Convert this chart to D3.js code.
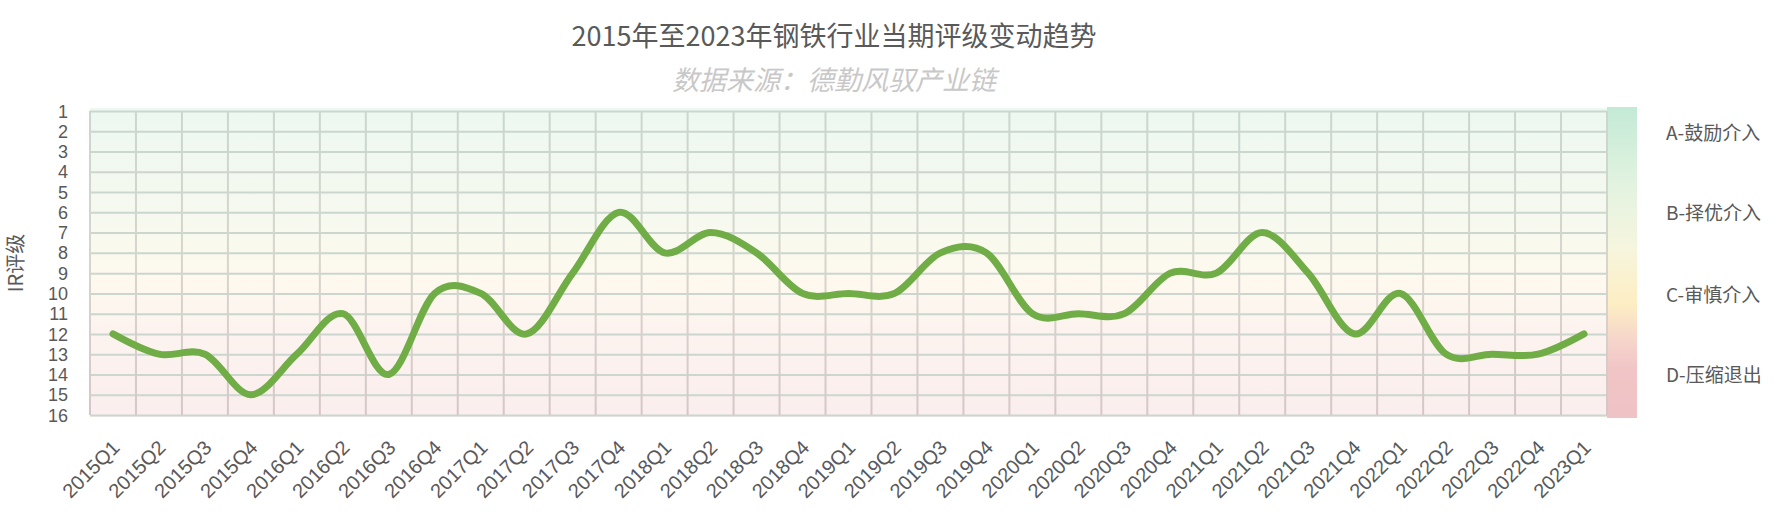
<!DOCTYPE html>
<html>
<head>
<meta charset="utf-8">
<script src="https://cdn.jsdelivr.net/npm/d3@7"></script>
<style>
  body { margin: 0; background: #fff; }
  svg { display: block; font-family: "Noto Sans CJK SC", "Noto Sans", sans-serif; }
</style>
</head>
<body>
<svg id="chart"></svg>
<script>
const quarters = [
  '2015Q1', '2015Q2', '2015Q3', '2015Q4', '2016Q1', '2016Q2', '2016Q3', '2016Q4',
  '2017Q1', '2017Q2', '2017Q3', '2017Q4', '2018Q1', '2018Q2', '2018Q3', '2018Q4',
  '2019Q1', '2019Q2', '2019Q3', '2019Q4', '2020Q1', '2020Q2', '2020Q3', '2020Q4',
  '2021Q1', '2021Q2', '2021Q3', '2021Q4', '2022Q1', '2022Q2', '2022Q3', '2022Q4',
  '2023Q1'
]
const ratings = [
  12, 13, 13, 15, 13, 11, 14, 10,
  10, 12, 9, 6, 8, 7, 8, 10,
  10, 10, 8, 8, 11, 11, 11, 9,
  9, 7, 9, 12, 10, 13, 13, 13,
  12
]
const ratingTicks = [1, 2, 3, 4, 5, 6, 7, 8, 9, 10, 11, 12, 13, 14, 15, 16]
const zoneNames = ['A-鼓励介入', 'B-择优介入', 'C-审慎介入', 'D-压缩退出']
const zoneCenters = [2.1, 6.05, 10.1, 14.05]
const title = '2015年至2023年钢铁行业当期评级变动趋势'
const subtitle = '数据来源：德勤风驭产业链'
const yTitle = 'IR评级'

const width = 1784, height = 523
const margin = { top: 111, right: 177, bottom: 108, left: 90 }
const textColor = '#595959'

const svg = d3.select('#chart').attr('width', width).attr('height', height)

const x = d3.scaleBand().domain(quarters).range([margin.left, width - margin.right])
const y = d3.scaleLinear().domain([1, 16]).range([margin.top, height - margin.bottom])
const [x0, x1] = x.range()
const [y0, y1] = y.range()

// gradients
const defs = svg.append('defs')
const addGradient = (id, stops, units) => {
  const g = defs.append('linearGradient').attr('id', id)
    .attr('x1', 0).attr('x2', 0)
  if (units) {
    g.attr('gradientUnits', 'userSpaceOnUse').attr('y1', y0).attr('y2', y1)
  } else {
    g.attr('y1', 0).attr('y2', 1)
  }
  stops.forEach(([o, c]) => g.append('stop').attr('offset', o).attr('stop-color', c))
}
addGradient('bg', [[0, '#edf8f1'], [0.35, '#f6f9ef'], [0.55, '#fef9ee'], [0.72, '#fcf3ef'], [1, '#fbeeee']])
addGradient('grid', [[0, '#cad6ce'], [0.5, '#d6d5cc'], [0.7, '#d8cfcb'], [1, '#d5c7c8']], true)
addGradient('zone', [[0, '#c3ead6'], [0.25, '#e2f3e0'], [0.45, '#f6f5de'], [0.63, '#fdeec3'],
  [0.76, '#f5d3cb'], [0.84, '#f1c5c6'], [1, '#efc3c5']])

// plot background
svg.append('rect')
  .attr('x', x0).attr('y', y0 - 3)
  .attr('width', x1 - x0).attr('height', y1 - y0 + 5)
  .attr('fill', 'url(#bg)')

// zone colour bar
svg.append('rect')
  .attr('x', x1).attr('y', y0 - 4)
  .attr('width', 30).attr('height', y1 - y0 + 7)
  .attr('fill', 'url(#zone)')

// horizontal grid + y tick labels
const yAxis = svg.append('g')
  .attr('transform', `translate(${x0},0)`)
  .call(d3.axisLeft(y).tickValues(ratingTicks).tickSize(-(x1 - x0)).tickPadding(22))
yAxis.select('.domain').remove()
yAxis.selectAll('.tick line').attr('stroke', 'url(#grid)').attr('stroke-width', 2)
yAxis.selectAll('.tick text')
  .attr('fill', textColor).attr('font-size', 18).attr('dy', '0.34em')

// vertical grid
svg.append('g').selectAll('line')
  .data([...quarters.map(q => x(q)), x1])
  .join('line')
  .attr('x1', d => d).attr('x2', d => d)
  .attr('y1', y0).attr('y2', y1)
  .attr('stroke', 'url(#grid)').attr('stroke-width', 2)

// x axis labels
const xAxis = svg.append('g')
  .attr('transform', `translate(0,${y1})`)
  .call(d3.axisBottom(x).tickSize(0).tickPadding(0))
xAxis.select('.domain').remove()
xAxis.selectAll('.tick text')
  .attr('fill', textColor).attr('font-size', 20)
  .attr('text-anchor', 'end')
  .attr('dy', 0)
  .attr('transform', 'translate(8,34) rotate(-45)')

// line
const line = d3.line()
  .x((d, i) => x(quarters[i]) + x.bandwidth() / 2)
  .y(d => y(d))
  .curve(d3.curveCardinal.tension(0))

svg.append('path')
  .datum(ratings)
  .attr('fill', 'none')
  .attr('stroke', '#70ad47')
  .attr('stroke-width', 7)
  .attr('stroke-linecap', 'round')
  .attr('stroke-linejoin', 'round')
  .attr('d', line)

// zone labels
svg.append('g').selectAll('text')
  .data(zoneNames)
  .join('text')
  .attr('x', x1 + 59)
  .attr('y', (d, i) => y(zoneCenters[i]))
  .attr('dy', '0.35em')
  .attr('fill', textColor)
  .attr('font-size', 19)
  .text(d => d)

// y title
svg.append('text')
  .attr('transform', `translate(23,${(y0 + y1) / 2}) rotate(-90)`)
  .attr('text-anchor', 'middle')
  .attr('fill', textColor)
  .attr('font-size', 20)
  .text(yTitle)

// titles
svg.append('text')
  .attr('x', 834).attr('y', 46)
  .attr('text-anchor', 'middle')
  .attr('fill', textColor)
  .attr('font-size', 27)
  .text(title)

svg.append('text')
  .attr('x', 834).attr('y', 90)
  .attr('text-anchor', 'middle')
  .attr('fill', '#c8c8c8')
  .attr('font-size', 27)
  .attr('font-style', 'italic')
  .text(subtitle)
</script>
</body>
</html>
